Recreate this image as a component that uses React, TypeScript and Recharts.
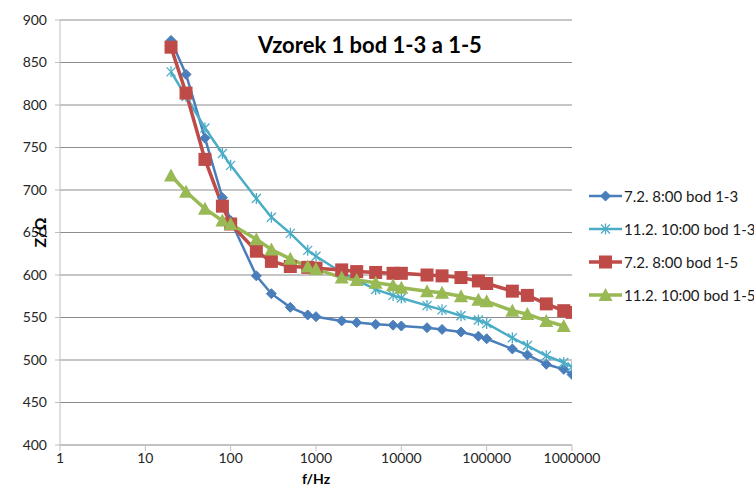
import React from 'react';
import {
  LineChart,
  Line,
  XAxis,
  YAxis,
  CartesianGrid,
} from 'recharts';

// frekvence (Hz)
const freqs = [
  20, 30, 50, 80, 100, 200, 300, 500, 800, 1000, 2000, 3000, 5000, 8000,
  10000, 20000, 30000, 50000, 80000, 100000, 200000, 300000, 500000, 800000,
  1000000,
];

const blue13 = [
  876, 836, 761, 691, 664, 599, 578, 562, 553, 551, 546, 544, 542, 541, 540,
  538, 536, 533, 528, 525, 513, 506, 495, 489, 483,
];
const cyan13 = [
  839, 810, 773, 743, 729, 690, 668, 649, 629, 622, 603, 594, 583, 576, 573,
  564, 559, 552, 547, 543, 526, 517, 505, 497, 492,
];
const red15 = [
  868, 814, 736, 681, 660, 628, 616, 610, 609, 608, 606, 604, 603, 602, 602,
  600, 599, 597, 593, 590, 581, 576, 566, 558, 556,
];
const green15 = [
  717, 698, 678, 664, 660, 642, 630, 619, 610, 607, 597, 594, 591, 588, 585,
  581, 579, 575, 571, 569, 558, 554, 546, 540, null,
];

const xTicks = [1, 10, 100, 1000, 10000, 100000, 1000000];
const yTicks = [400, 450, 500, 550, 600, 650, 700, 750, 800, 850, 900];

const seriesNames = [
  '7.2. 8:00 bod 1-3',
  '11.2. 10:00 bod 1-3',
  '7.2. 8:00 bod 1-5',
  '11.2. 10:00 bod 1-5',
];

const data = freqs.map((f, i) => ({
  f,
  s0: blue13[i],
  s1: cyan13[i],
  s2: red15[i],
  s3: green15[i],
}));

const series = [
  { key: 's0', color: '#4A7EBB', shape: 'diamond', width: 2.5 },
  { key: 's1', color: '#4BACC6', shape: 'star', width: 2.5 },
  { key: 's2', color: '#BE4B48', shape: 'square', width: 3.5 },
  { key: 's3', color: '#98B954', shape: 'triangle', width: 3.5 },
];

const font = 'Lato, sans-serif';

const Marker = ({ shape, color, cx, cy }: any) => {
  if (shape === 'diamond') {
    const r = 5;
    return (
      <path
        d={`M${cx},${cy - r}L${cx + r},${cy}L${cx},${cy + r}L${cx - r},${cy}Z`}
        fill={color}
        stroke={color}
      />
    );
  }
  if (shape === 'square') {
    return <rect x={cx - 6.5} y={cy - 6.5} width={13} height={13} fill={color} />;
  }
  if (shape === 'triangle') {
    return (
      <path
        d={`M${cx},${cy - 7}L${cx + 7},${cy + 6}L${cx - 7},${cy + 6}Z`}
        fill={color}
      />
    );
  }
  const r = 4.5;
  return (
    <g stroke={color} strokeWidth={1.3}>
      <line x1={cx - r} y1={cy - r} x2={cx + r} y2={cy + r} />
      <line x1={cx - r} y1={cy + r} x2={cx + r} y2={cy - r} />
      <line x1={cx} y1={cy - r - 1} x2={cx} y2={cy + r + 1} />
    </g>
  );
};

const makeDot = (shape: string, color: string) => (props: any) => {
  const { cx, cy, index } = props;
  if (typeof cy !== 'number' || isNaN(cy) || props.value == null) {
    return <g key={index} />;
  }
  return (
    <g key={index}>
      <Marker shape={shape} color={color} cx={cx} cy={cy} />
    </g>
  );
};

const ChartLegend = () => (
  <div
    style={{
      position: 'absolute',
      left: 589,
      top: 179,
      fontFamily: font,
      fontSize: 15,
      color: '#1a1a1a',
    }}
  >
    {series.map((s, i) => (
      <div key={s.key} style={{ height: 33, display: 'flex', alignItems: 'center' }}>
        <svg width={33} height={16}>
          <line x1={0} y1={8} x2={33} y2={8} stroke={s.color} strokeWidth={s.width} />
          <Marker shape={s.shape} color={s.color} cx={16.5} cy={8} />
        </svg>
        <span style={{ marginLeft: 2, whiteSpace: 'nowrap' }}>{seriesNames[i]}</span>
      </div>
    ))}
  </div>
);

export default function App() {
  return (
    <div style={{ position: 'absolute', left: 0, top: 0, width: 754, height: 488, background: '#fff' }}>
      <LineChart
        width={754}
        height={488}
        data={data}
        margin={{ top: 20, right: 182, bottom: 0, left: 10 }}
      >
        <CartesianGrid vertical={false} stroke="#8c8c8c" />
        <XAxis
          dataKey="f"
          type="number"
          scale="log"
          domain={[1, 1000000]}
          ticks={xTicks}
          allowDataOverflow
          height={43}
          tickSize={6}
          tickMargin={2}
          stroke="#bfbfbf"
          tick={{ fill: '#262626', fontSize: 14, fontFamily: font }}
          label={{
            value: 'f/Hz',
            position: 'insideBottom',
            offset: 4,
            style: { fontWeight: 'bold', fontSize: 14, fill: '#000', fontFamily: font },
          }}
        />
        <YAxis
          type="number"
          domain={[400, 900]}
          ticks={yTicks}
          width={50}
          tickSize={5}
          tickMargin={8}
          stroke="#bfbfbf"
          tick={{ fill: '#262626', fontSize: 14, fontFamily: font }}
          label={{
            value: 'Z/Ω',
            angle: -90,
            position: 'insideLeft',
            offset: 30,
            style: { fontWeight: 'bold', fontSize: 16, fill: '#000', fontFamily: font, textAnchor: 'middle' },
          }}
        />
        {series.map((s, i) => (
          <Line
            key={s.key}
            dataKey={s.key}
            name={seriesNames[i]}
            type="linear"
            stroke={s.color}
            strokeWidth={s.width}
            dot={makeDot(s.shape, s.color)}
            activeDot={false}
            isAnimationActive={false}
          />
        ))}
      </LineChart>
      <div
        style={{
          position: 'absolute',
          left: 258,
          top: 31,
          fontFamily: font,
          fontWeight: 'bold',
          fontSize: 22,
          color: '#000',
          whiteSpace: 'nowrap',
        }}
      >
        Vzorek 1 bod 1-3 a 1-5
      </div>
      <ChartLegend />
    </div>
  );
}
